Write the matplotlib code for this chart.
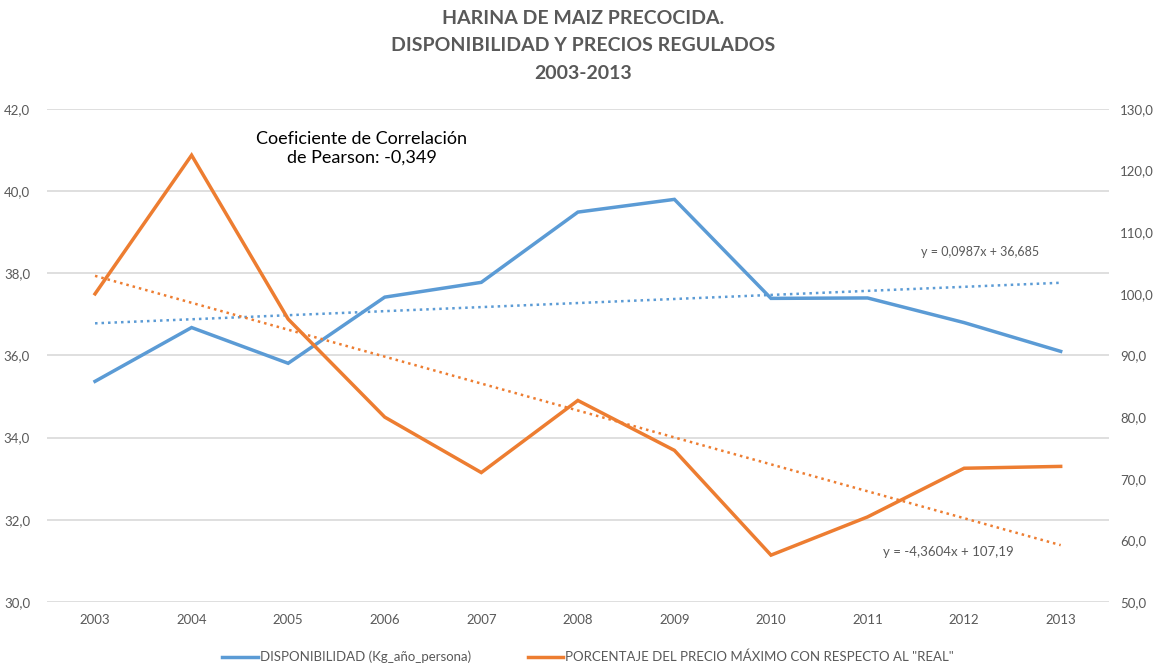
import numpy as np
import matplotlib.pyplot as plt
from matplotlib.ticker import FuncFormatter

plt.rcParams["font.family"] = ["Lato", "DejaVu Sans"]

# data
years = ["2003", "2004", "2005", "2006", "2007", "2008",
         "2009", "2010", "2011", "2012", "2013"]
disponibilidad = [35.37, 36.68, 35.81, 37.42, 37.78, 39.49,
                  39.80, 37.39, 37.40, 36.80, 36.10]
porcentaje_precio = [100.0, 122.5, 95.9, 80.0, 71.0, 82.7,
                     74.6, 57.6, 63.8, 71.7, 72.0]

label_disp = "DISPONIBILIDAD (Kg_año_persona)"
label_prec = 'PORCENTAJE DEL PRECIO MÁXIMO CON RESPECTO AL "REAL"'
eq_disp = "y = 0,0987x + 36,685"
eq_prec = "y = -4,3604x + 107,19"
pearson_text = "Coeficiente de Correlación\nde Pearson: -0,349"
title = "HARINA DE MAIZ PRECOCIDA.\nDISPONIBILIDAD Y PRECIOS REGULADOS\n2003-2013"

BLUE = "#5B9BD5"
ORANGE = "#ED7D31"
GRAY = "#595959"
GRID = "#D9D9D9"

x = np.arange(len(years))
# excel style linear trend (x = 1..n)
fit_d = np.polyfit(x + 1, disponibilidad, 1)
fit_p = np.polyfit(x + 1, porcentaje_precio, 1)

fig = plt.figure(figsize=(11.6, 6.67), dpi=100)
ax = fig.add_axes([0.0403, 0.0975, 0.9157, 0.7391])
ax2 = ax.twinx()

ax.plot(x, disponibilidad, color=BLUE, lw=2.5, solid_joinstyle="miter", zorder=3)
ax.plot(x, np.polyval(fit_d, x + 1), color=BLUE, lw=1.8,
        linestyle=(0, (1, 1.6)), zorder=2)
ax2.plot(x, porcentaje_precio, color=ORANGE, lw=2.5, solid_joinstyle="miter", zorder=3)
ax2.plot(x, np.polyval(fit_p, x + 1), color=ORANGE, lw=1.8,
         linestyle=(0, (1, 1.6)), zorder=2)

ax.set_xlim(-0.5, len(years) - 0.5)
ax.set_ylim(30, 42)
ax.set_yticks(np.arange(30, 42.1, 2))
ax2.set_ylim(50, 130)
ax2.set_yticks(np.arange(50, 130.1, 10))
ax.set_xticks(x)
ax.set_xticklabels(years)

fmt = FuncFormatter(lambda v, p: f"{v:.1f}".replace(".", ","))
ax.yaxis.set_major_formatter(fmt)
ax2.yaxis.set_major_formatter(fmt)

ax.grid(axis="y", color=GRID, lw=1.2)
ax.set_axisbelow(True)
for a in (ax, ax2):
    for s in a.spines.values():
        s.set_visible(False)
    a.tick_params(length=0, labelsize=9.5, colors=GRAY)
ax.tick_params(axis="y", pad=12)
ax2.tick_params(axis="y", pad=8)
ax.tick_params(axis="x", pad=9)

ax.text(2.76, 41.05, pearson_text, ha="center", va="center",
        fontsize=13, color="black", linespacing=1.2)
ax.text(9.17, 38.52, eq_disp, ha="center", va="center", fontsize=9, color=GRAY)
ax.text(8.84, 31.22, eq_prec, ha="center", va="center", fontsize=9.5, color=GRAY)

fig.text(0.503, 0.9315, title, ha="center", va="center", fontsize=14,
         fontweight="bold", color=GRAY, linespacing=1.75)

h1 = plt.Line2D([], [], color=BLUE, lw=2.5)
h2 = plt.Line2D([], [], color=ORANGE, lw=2.5)
fig.legend([h1, h2], [label_disp, label_prec], loc="center",
           bbox_to_anchor=(0.507, 0.015), ncol=2, frameon=False,
           fontsize=9.5, labelcolor=GRAY, handlelength=2.7,
           handletextpad=0.15, columnspacing=4.3)

fig.savefig("out.png")
